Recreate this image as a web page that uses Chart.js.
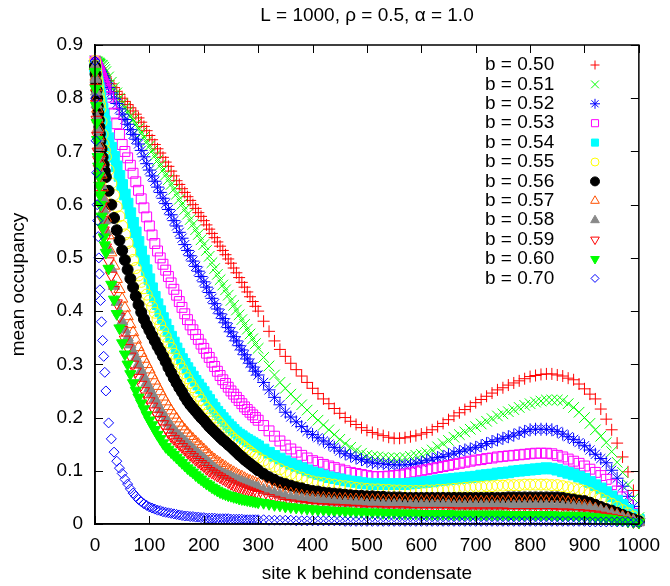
<!DOCTYPE html>
<html><head><meta charset="utf-8">
<script src="https://cdn.jsdelivr.net/npm/chart.js@4.4.0/dist/chart.umd.min.js"></script>
<style>html,body{margin:0;padding:0;background:#fff;}#wrap{width:670px;height:586px;}</style>
</head><body><div id="wrap"><canvas id="c" width="670" height="586"></canvas></div>
<script>
// site k behind condensate (x positions)
const sites = [0,1,2,3,4,5,6,7,8,9,10,12,14,16,18,20,25,30,35,40,45,
50,55,60,65,70,75,80,85,90,95,100,105,110,115,120,125,130,135,140,145,
150,155,160,165,170,175,180,185,190,195,200,205,210,215,220,225,230,235,240,245,
250,255,260,265,270,275,280,285,290,295,300,
310,320,330,340,
350,360,370,380,390,400,410,420,430,440,
450,460,470,480,490,500,510,520,530,540,
550,560,570,580,590,600,610,620,630,640,
650,660,670,680,690,700,710,720,730,740,
750,760,770,780,790,800,810,820,830,840,
850,860,870,880,890,900,910,920,930,940,
950,960,970,980,990,1000];

const chartTitle = 'L = 1000, ρ = 0.5, α = 1.0';
const seriesLabels = ['b = 0.50','b = 0.51','b = 0.52','b = 0.53','b = 0.54','b = 0.55','b = 0.56','b = 0.57','b = 0.58','b = 0.59','b = 0.60','b = 0.70'];
const xTickLabels = ['0','100','200','300','400','500','600','700','800','900','1000'];
const yTickLabels = ['0','0.1','0.2','0.3','0.4','0.5','0.6','0.7','0.8','0.9'];

const occ050 = [0.870,0.869,0.867,0.866,0.864,0.863,0.861,0.860,0.858,0.857,0.855,0.852,0.849,0.846,0.843,0.840,0.833,0.827,0.820,0.813,0.807,
0.800,0.794,0.788,0.782,0.776,0.770,0.763,0.755,0.747,0.739,0.730,0.722,0.713,0.705,0.697,0.689,0.680,0.672,0.663,0.654,
0.645,0.638,0.630,0.623,0.615,0.608,0.600,0.593,0.585,0.578,0.570,0.562,0.554,0.546,0.538,0.530,0.522,0.514,0.506,0.498,
0.490,0.481,0.472,0.463,0.454,0.445,0.436,0.427,0.418,0.409,0.400,
0.381,0.362,0.344,0.328,
0.315,0.302,0.290,0.278,0.266,0.255,0.245,0.235,0.226,0.217,
0.208,0.200,0.193,0.187,0.181,0.176,0.172,0.169,0.166,0.163,
0.161,0.161,0.162,0.164,0.166,0.169,0.172,0.177,0.183,0.189,
0.196,0.203,0.209,0.215,0.221,0.228,0.234,0.240,0.246,0.252,
0.256,0.261,0.265,0.269,0.273,0.277,0.279,0.281,0.282,0.282,
0.280,0.278,0.274,0.271,0.263,0.254,0.244,0.235,0.216,0.197,
0.177,0.152,0.126,0.098,0.063,0.015];
const occ051 = [0.870,0.869,0.869,0.868,0.868,0.867,0.866,0.866,0.865,0.864,0.863,0.862,0.861,0.858,0.854,0.850,0.840,0.830,0.820,0.810,0.800,
0.790,0.782,0.774,0.766,0.759,0.751,0.743,0.735,0.727,0.718,0.710,0.701,0.692,0.683,0.674,0.665,0.656,0.647,0.638,0.629,
0.620,0.610,0.601,0.591,0.582,0.572,0.563,0.553,0.544,0.534,0.525,0.514,0.503,0.491,0.480,0.469,0.459,0.449,0.440,0.430,
0.420,0.411,0.402,0.393,0.384,0.375,0.366,0.357,0.348,0.339,0.330,
0.313,0.297,0.280,0.266,
0.255,0.244,0.234,0.224,0.214,0.204,0.195,0.186,0.177,0.168,
0.159,0.151,0.144,0.138,0.133,0.129,0.127,0.126,0.125,0.124,
0.124,0.124,0.125,0.127,0.129,0.131,0.134,0.139,0.145,0.151,
0.157,0.163,0.168,0.173,0.178,0.183,0.188,0.193,0.198,0.203,
0.207,0.211,0.215,0.219,0.223,0.226,0.229,0.231,0.233,0.233,
0.233,0.232,0.226,0.219,0.210,0.200,0.189,0.177,0.165,0.153,
0.136,0.116,0.097,0.074,0.048,0.012];
const occ052 = [0.870,0.868,0.866,0.864,0.862,0.860,0.858,0.856,0.854,0.852,0.850,0.846,0.842,0.838,0.834,0.830,0.820,0.810,0.800,0.790,0.780,
0.770,0.760,0.751,0.741,0.732,0.723,0.714,0.702,0.690,0.677,0.665,0.654,0.644,0.633,0.623,0.612,0.602,0.591,0.581,0.570,
0.560,0.548,0.537,0.525,0.514,0.504,0.494,0.484,0.475,0.465,0.455,0.445,0.435,0.424,0.414,0.404,0.395,0.386,0.378,0.369,
0.361,0.352,0.344,0.335,0.327,0.318,0.310,0.302,0.295,0.287,0.280,
0.266,0.252,0.238,0.224,
0.210,0.201,0.192,0.183,0.174,0.168,0.162,0.156,0.150,0.144,
0.137,0.132,0.128,0.124,0.121,0.118,0.115,0.114,0.113,0.112,
0.111,0.111,0.111,0.112,0.114,0.116,0.119,0.122,0.125,0.127,
0.130,0.133,0.136,0.139,0.141,0.144,0.147,0.151,0.155,0.158,
0.161,0.164,0.167,0.171,0.174,0.177,0.178,0.178,0.178,0.177,
0.174,0.169,0.164,0.159,0.153,0.147,0.139,0.131,0.123,0.115,
0.101,0.086,0.071,0.052,0.033,0.010];
const occ053 = [0.870,0.867,0.865,0.862,0.859,0.857,0.854,0.851,0.849,0.846,0.843,0.838,0.832,0.827,0.822,0.816,0.802,0.789,0.772,0.752,0.732,
0.713,0.700,0.688,0.674,0.659,0.643,0.627,0.611,0.594,0.577,0.560,0.543,0.527,0.513,0.500,0.488,0.477,0.465,0.453,0.441,
0.430,0.418,0.407,0.395,0.384,0.374,0.365,0.356,0.347,0.338,0.330,0.321,0.313,0.304,0.296,0.287,0.279,0.271,0.264,0.257,
0.250,0.244,0.238,0.232,0.226,0.220,0.215,0.210,0.205,0.200,0.195,
0.185,0.175,0.165,0.156,
0.148,0.141,0.135,0.129,0.124,0.119,0.116,0.112,0.109,0.106,
0.103,0.100,0.097,0.095,0.093,0.091,0.089,0.089,0.089,0.090,
0.091,0.092,0.094,0.096,0.098,0.100,0.102,0.104,0.106,0.108,
0.110,0.112,0.114,0.116,0.118,0.120,0.121,0.123,0.124,0.126,
0.127,0.128,0.129,0.130,0.131,0.132,0.133,0.133,0.133,0.132,
0.129,0.126,0.122,0.118,0.114,0.109,0.103,0.097,0.091,0.084,
0.074,0.062,0.051,0.036,0.020,0.006];
const occ054 = [0.860,0.854,0.848,0.843,0.837,0.831,0.826,0.820,0.814,0.808,0.803,0.791,0.780,0.769,0.757,0.746,0.725,0.707,0.690,0.672,0.654,
0.637,0.619,0.602,0.584,0.566,0.548,0.530,0.512,0.495,0.477,0.460,0.443,0.427,0.413,0.400,0.387,0.375,0.363,0.352,0.341,
0.330,0.320,0.310,0.301,0.293,0.285,0.277,0.269,0.262,0.255,0.248,0.240,0.233,0.225,0.218,0.211,0.205,0.199,0.193,0.187,
0.182,0.177,0.172,0.168,0.165,0.161,0.158,0.155,0.152,0.149,0.146,
0.140,0.134,0.128,0.123,
0.118,0.113,0.109,0.105,0.101,0.097,0.094,0.091,0.088,0.086,
0.084,0.082,0.080,0.079,0.077,0.076,0.075,0.075,0.075,0.075,
0.075,0.075,0.075,0.076,0.077,0.078,0.079,0.080,0.082,0.083,
0.084,0.085,0.086,0.087,0.088,0.089,0.091,0.092,0.093,0.095,
0.096,0.097,0.099,0.100,0.101,0.102,0.103,0.104,0.105,0.104,
0.102,0.099,0.096,0.093,0.089,0.085,0.079,0.073,0.067,0.060,
0.052,0.044,0.036,0.026,0.017,0.008];
const occ055 = [0.870,0.861,0.852,0.843,0.834,0.825,0.816,0.807,0.798,0.789,0.780,0.756,0.732,0.714,0.702,0.690,0.665,0.640,0.618,0.596,0.578,
0.560,0.544,0.528,0.512,0.496,0.481,0.467,0.455,0.443,0.431,0.420,0.408,0.397,0.385,0.374,0.363,0.352,0.341,0.331,0.320,
0.310,0.301,0.292,0.283,0.274,0.265,0.257,0.249,0.241,0.233,0.225,0.218,0.212,0.206,0.200,0.194,0.188,0.182,0.176,0.170,
0.165,0.160,0.156,0.152,0.148,0.144,0.140,0.136,0.132,0.128,0.125,
0.119,0.113,0.108,0.103,
0.098,0.094,0.090,0.087,0.083,0.080,0.078,0.077,0.075,0.074,
0.072,0.071,0.070,0.068,0.067,0.066,0.065,0.065,0.064,0.064,
0.063,0.063,0.062,0.062,0.062,0.062,0.063,0.063,0.064,0.064,
0.065,0.066,0.067,0.068,0.069,0.070,0.070,0.071,0.071,0.072,
0.072,0.073,0.073,0.073,0.074,0.074,0.074,0.074,0.074,0.073,
0.073,0.071,0.069,0.067,0.065,0.062,0.058,0.053,0.048,0.043,
0.038,0.032,0.026,0.020,0.014,0.008];
const occ056 = [0.860,0.845,0.830,0.815,0.800,0.785,0.772,0.759,0.746,0.733,0.720,0.705,0.689,0.675,0.663,0.652,0.626,0.600,0.575,0.552,0.533,
0.514,0.496,0.478,0.461,0.445,0.428,0.412,0.398,0.385,0.374,0.364,0.354,0.344,0.334,0.325,0.315,0.305,0.294,0.284,0.274,
0.265,0.256,0.248,0.239,0.231,0.224,0.218,0.212,0.206,0.200,0.195,0.189,0.183,0.178,0.173,0.168,0.163,0.158,0.154,0.149,
0.145,0.140,0.135,0.130,0.126,0.121,0.117,0.113,0.109,0.105,0.101,
0.094,0.088,0.083,0.078,
0.075,0.072,0.069,0.067,0.064,0.062,0.061,0.059,0.058,0.057,
0.056,0.055,0.054,0.053,0.053,0.052,0.052,0.051,0.051,0.050,
0.050,0.050,0.049,0.049,0.049,0.049,0.049,0.049,0.049,0.049,
0.049,0.049,0.049,0.049,0.049,0.049,0.049,0.049,0.049,0.049,
0.049,0.050,0.050,0.050,0.050,0.050,0.050,0.050,0.050,0.050,
0.050,0.049,0.047,0.046,0.044,0.043,0.040,0.036,0.032,0.028,
0.025,0.021,0.017,0.013,0.009,0.005];
const occ057 = [0.860,0.840,0.820,0.800,0.780,0.760,0.744,0.728,0.712,0.696,0.680,0.656,0.632,0.611,0.593,0.575,0.542,0.510,0.485,0.460,0.441,
0.423,0.406,0.390,0.375,0.360,0.346,0.332,0.321,0.310,0.300,0.290,0.279,0.269,0.259,0.249,0.239,0.230,0.221,0.213,0.205,
0.198,0.190,0.183,0.177,0.171,0.165,0.160,0.155,0.150,0.145,0.140,0.135,0.130,0.125,0.121,0.117,0.114,0.110,0.107,0.103,
0.100,0.097,0.094,0.091,0.089,0.086,0.083,0.081,0.079,0.077,0.075,
0.071,0.068,0.065,0.062,
0.059,0.057,0.055,0.053,0.051,0.050,0.049,0.049,0.048,0.048,
0.047,0.047,0.046,0.046,0.045,0.045,0.045,0.045,0.044,0.044,
0.044,0.044,0.044,0.043,0.043,0.043,0.043,0.043,0.043,0.043,
0.042,0.042,0.042,0.042,0.042,0.042,0.042,0.042,0.042,0.042,
0.042,0.043,0.043,0.043,0.043,0.043,0.043,0.043,0.043,0.043,
0.043,0.042,0.041,0.039,0.037,0.035,0.032,0.029,0.026,0.023,
0.020,0.017,0.014,0.011,0.007,0.004];
const occ058 = [0.860,0.836,0.812,0.788,0.764,0.740,0.724,0.708,0.692,0.676,0.660,0.636,0.612,0.590,0.570,0.550,0.515,0.480,0.447,0.417,0.398,
0.380,0.365,0.350,0.337,0.324,0.312,0.300,0.288,0.276,0.265,0.255,0.245,0.235,0.225,0.215,0.206,0.198,0.190,0.183,0.176,
0.170,0.165,0.160,0.155,0.150,0.145,0.140,0.135,0.131,0.126,0.122,0.117,0.113,0.108,0.104,0.100,0.097,0.094,0.092,0.090,
0.088,0.085,0.083,0.081,0.079,0.077,0.075,0.073,0.071,0.069,0.068,
0.064,0.061,0.058,0.055,
0.052,0.050,0.049,0.047,0.046,0.045,0.044,0.043,0.042,0.041,
0.040,0.040,0.039,0.039,0.038,0.037,0.037,0.037,0.036,0.036,
0.036,0.036,0.035,0.035,0.035,0.035,0.035,0.035,0.035,0.035,
0.035,0.034,0.034,0.034,0.034,0.034,0.034,0.034,0.034,0.034,
0.034,0.034,0.034,0.034,0.034,0.034,0.034,0.034,0.034,0.033,
0.033,0.033,0.032,0.032,0.031,0.030,0.029,0.027,0.025,0.022,
0.018,0.015,0.012,0.009,0.006,0.003];
const occ059 = [0.850,0.820,0.790,0.760,0.730,0.700,0.684,0.668,0.652,0.636,0.620,0.596,0.572,0.552,0.536,0.520,0.494,0.467,0.440,0.415,0.390,
0.365,0.347,0.331,0.315,0.300,0.287,0.275,0.262,0.250,0.240,0.231,0.221,0.212,0.204,0.196,0.188,0.180,0.172,0.165,0.160,
0.155,0.150,0.145,0.140,0.135,0.130,0.126,0.121,0.117,0.113,0.109,0.104,0.100,0.097,0.094,0.091,0.088,0.085,0.082,0.079,
0.076,0.073,0.071,0.069,0.067,0.065,0.063,0.061,0.059,0.057,0.055,
0.052,0.049,0.046,0.043,
0.040,0.039,0.037,0.036,0.034,0.033,0.032,0.032,0.031,0.031,
0.030,0.030,0.029,0.029,0.028,0.027,0.027,0.027,0.026,0.026,
0.026,0.026,0.026,0.025,0.025,0.025,0.025,0.025,0.025,0.025,
0.025,0.024,0.024,0.024,0.024,0.024,0.024,0.024,0.024,0.024,
0.024,0.023,0.023,0.023,0.023,0.023,0.023,0.023,0.023,0.023,
0.022,0.022,0.022,0.021,0.021,0.020,0.019,0.018,0.016,0.014,
0.012,0.010,0.008,0.006,0.004,0.003];
const occ060 = [0.850,0.818,0.786,0.754,0.722,0.690,0.672,0.654,0.636,0.618,0.600,0.578,0.557,0.539,0.524,0.510,0.480,0.450,0.422,0.395,0.368,
0.340,0.319,0.300,0.282,0.265,0.251,0.238,0.227,0.216,0.205,0.195,0.186,0.177,0.168,0.160,0.152,0.145,0.140,0.135,0.130,
0.125,0.120,0.115,0.110,0.105,0.101,0.097,0.092,0.088,0.084,0.080,0.076,0.073,0.069,0.066,0.063,0.060,0.058,0.056,0.054,
0.053,0.051,0.050,0.048,0.047,0.046,0.045,0.044,0.043,0.042,0.041,
0.040,0.038,0.036,0.035,
0.033,0.032,0.031,0.030,0.029,0.028,0.027,0.027,0.026,0.025,
0.025,0.024,0.024,0.023,0.023,0.022,0.022,0.022,0.021,0.021,
0.021,0.020,0.020,0.020,0.020,0.019,0.019,0.019,0.019,0.019,
0.019,0.018,0.018,0.018,0.018,0.018,0.018,0.018,0.018,0.018,
0.018,0.017,0.017,0.017,0.017,0.017,0.017,0.017,0.017,0.017,
0.016,0.016,0.016,0.016,0.015,0.015,0.014,0.013,0.012,0.011,
0.010,0.008,0.007,0.005,0.004,0.003];
const occ070 = [0.870,0.800,0.720,0.660,0.600,0.570,0.540,0.500,0.470,0.440,0.420,0.380,0.345,0.315,0.285,0.250,0.190,0.160,0.135,0.118,0.105,
0.095,0.084,0.075,0.066,0.058,0.052,0.046,0.042,0.038,0.035,0.032,0.030,0.028,0.026,0.025,0.023,0.022,0.021,0.020,0.019,
0.018,0.017,0.016,0.015,0.015,0.014,0.014,0.013,0.013,0.012,0.012,0.011,0.011,0.011,0.011,0.010,0.010,0.010,0.010,0.010,
0.009,0.009,0.009,0.009,0.009,0.008,0.008,0.008,0.008,0.008,0.008,
0.008,0.007,0.007,0.007,
0.007,0.007,0.006,0.006,0.006,0.006,0.006,0.006,0.006,0.006,
0.006,0.005,0.005,0.005,0.005,0.005,0.005,0.005,0.005,0.005,
0.005,0.005,0.005,0.005,0.005,0.005,0.005,0.005,0.005,0.005,
0.005,0.005,0.005,0.005,0.005,0.005,0.005,0.005,0.005,0.005,
0.005,0.005,0.005,0.005,0.005,0.005,0.005,0.005,0.005,0.005,
0.005,0.005,0.005,0.005,0.005,0.005,0.004,0.004,0.004,0.004,
0.004,0.004,0.004,0.004,0.003,0.003];

const seriesValues = [occ050,occ051,occ052,occ053,occ054,occ055,occ056,occ057,occ058,occ059,occ060,occ070];

// marker styles (gnuplot-like); r = size in plot, kr = size in key
const styles = [
  {c:'#ff0000', s:'cross',    r:6,   kr:4.5, fill:false},
  {c:'#00ff00', s:'crossRot', r:7.5, kr:5.5, fill:false},
  {c:'#0000ff', s:'star',     r:6.5, kr:5,   fill:false},
  {c:'#ff00ff', s:'rect',     r:7,   kr:5,   fill:false},
  {c:'#00ffff', s:'rect',     r:7.5, kr:5,   fill:true},
  {c:'#ffff00', s:'circle',   r:5.5, kr:4,   fill:false},
  {c:'#000000', s:'circle',   r:5.5, kr:4.5, fill:true},
  {c:'#ff5000', s:'triangle', r:6.5, kr:5,   fill:false},
  {c:'#888888', s:'triangle', r:6.5, kr:5,   fill:true},
  {c:'#ff0000', s:'triangle', r:6.5, kr:5,   fill:false, rot:180},
  {c:'#00ff00', s:'triangle', r:6.5, kr:5,   fill:true,  rot:180},
  {c:'#0000ff', s:'rectRot',  r:5,   kr:4,   fill:false}
];

const FONT = '"Liberation Sans", Arial, Helvetica, sans-serif';

const datasets = seriesValues.map((vals, i) => {
  const st = styles[i];
  return {
    label: seriesLabels[i],
    data: vals.map((v, k) => ({x: sites[k], y: v})),
    showLine: false,
    pointStyle: st.s,
    pointRadius: st.r,
    pointHoverRadius: st.r,
    pointRotation: st.rot || 0,
    pointBorderWidth: 1,
    pointBorderColor: st.c,
    pointBackgroundColor: st.fill ? st.c : 'rgba(0,0,0,0)',
    borderColor: st.c,
    backgroundColor: st.fill ? st.c : 'rgba(0,0,0,0)',
    clip: false,
    order: 11 - i
  };
});

const frame = {
  id: 'frame',
  afterDraw(chart) {
    const ctx = chart.ctx, a = chart.chartArea;
    const xs = chart.scales.x, ys = chart.scales.y;
    ctx.save();
    // title centred over the plot area
    ctx.fillStyle = '#000';
    ctx.font = '19px ' + FONT;
    ctx.textAlign = 'center';
    ctx.textBaseline = 'middle';
    ctx.fillText(chartTitle, (a.left + a.right) / 2, 16);

    ctx.strokeStyle = '#000';
    ctx.lineWidth = 1.5;
    ctx.strokeRect(a.left, a.top, a.right - a.left, a.bottom - a.top);
    ctx.lineWidth = 1;
    const L = 8;
    ctx.beginPath();
    xs.ticks.forEach(t => {
      const px = Math.round(xs.getPixelForValue(t.value)) + 0.5;
      ctx.moveTo(px, a.bottom); ctx.lineTo(px, a.bottom - L);
      ctx.moveTo(px, a.top); ctx.lineTo(px, a.top + L);
    });
    ys.ticks.forEach(t => {
      const py = Math.round(ys.getPixelForValue(t.value)) + 0.5;
      ctx.moveTo(a.left, py); ctx.lineTo(a.left + L, py);
      ctx.moveTo(a.right, py); ctx.lineTo(a.right - L, py);
    });
    ctx.stroke();

    // key (text left, marker right), as gnuplot draws it
    ctx.textAlign = 'left';
    ctx.textBaseline = 'middle';
    const x0 = 485, xm = 595, y0 = 65, dy = 19.4;
    chart.data.datasets.forEach((ds, i) => {
      const y = y0 + i * dy;
      ctx.fillStyle = '#000';
      ctx.fillText(ds.label, x0, y);
      const st = styles[i];
      ctx.strokeStyle = st.c;
      ctx.fillStyle = st.fill ? st.c : 'rgba(0,0,0,0)';
      ctx.lineWidth = 1;
      Chart.helpers.drawPoint(ctx, {pointStyle: st.s, radius: st.kr, rotation: st.rot || 0, borderWidth: 1}, xm, y);
    });
    ctx.restore();
  }
};

new Chart(document.getElementById('c'), {
  type: 'scatter',
  data: {datasets},
  plugins: [frame],
  options: {
    responsive: false,
    animation: false,
    devicePixelRatio: 1,
    layout: {padding: {left: 0, right: 24, top: 45, bottom: 0}},
    plugins: {
      legend: {display: false},
      tooltip: {enabled: false},
      title: {display: false}
    },
    scales: {
      x: {
        type: 'linear', min: 0, max: 1000,
        afterFit: s => { s.height = 62; },
        ticks: {stepSize: 100, color: '#000', font: {family: FONT, size: 19}, padding: 10,
          maxRotation: 0, autoSkip: false,
          callback: (v) => xTickLabels[Math.round(v / 100)] },
        grid: {drawOnChartArea: false, drawTicks: false},
        border: {display: true, color: '#000', width: 1.5},
        title: {display: true, text: 'site k behind condensate', color: '#000',
          font: {family: FONT, size: 19}, padding: {top: 0, bottom: 1}}
      },
      y: {
        type: 'linear', min: 0, max: 0.9,
        afterFit: s => { s.width = 95; },
        ticks: {stepSize: 0.1, color: '#000', font: {family: FONT, size: 19}, padding: 12,
          autoSkip: false,
          callback: (v) => yTickLabels[Math.round(v * 10)] },
        grid: {drawOnChartArea: false, drawTicks: false},
        border: {display: true, color: '#000', width: 1.5},
        title: {display: true, text: 'mean occupancy', color: '#000',
          font: {family: FONT, size: 19}, padding: {top: 7, bottom: 0}}
      }
    }
  }
});
</script>
</body></html>
